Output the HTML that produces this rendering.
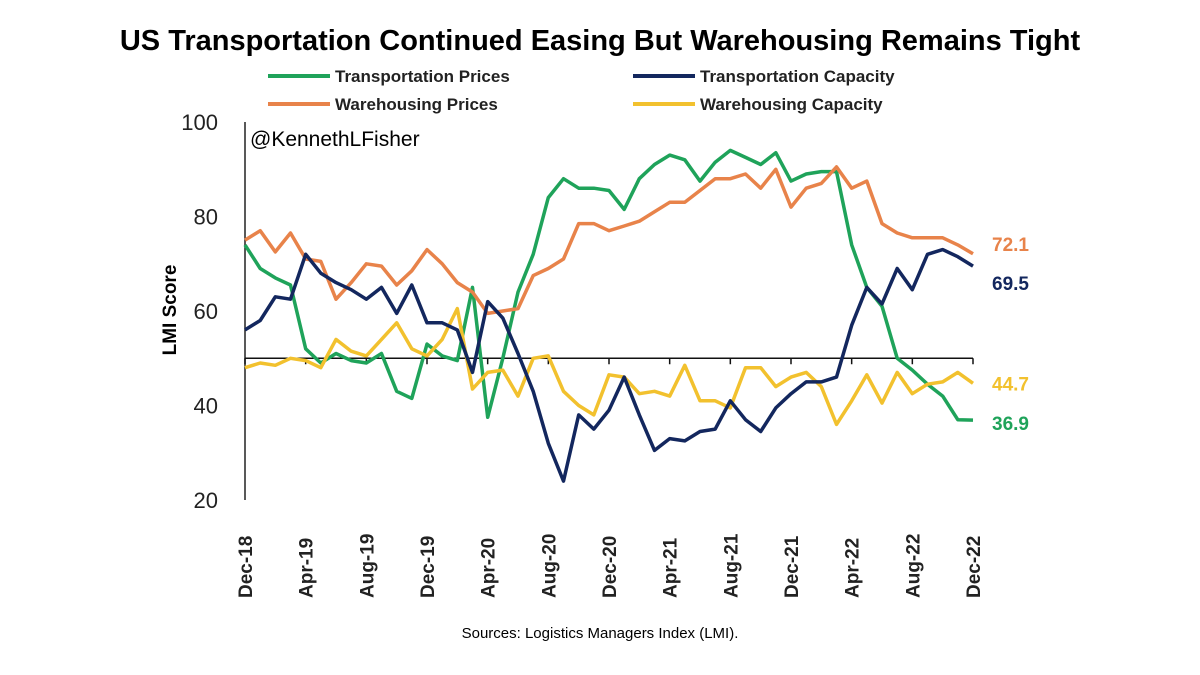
<!DOCTYPE html>
<html><head><meta charset="utf-8"><style>
body{margin:0;background:#fff;width:1200px;height:675px;overflow:hidden}
svg{display:block}
</style></head><body>
<svg id="chart" width="1200" height="675" font-family="'Liberation Sans', sans-serif">
<text x="600" y="50" text-anchor="middle" font-size="29" font-weight="bold" fill="#000">US Transportation Continued Easing But Warehousing Remains Tight</text>
<g font-size="17" font-weight="bold" fill="#222">
<g><line x1="268" y1="76" x2="330" y2="76" stroke="#1fa35a" stroke-width="4"/><text x="335" y="82">Transportation Prices</text></g>
<g><line x1="633" y1="76" x2="695" y2="76" stroke="#13275e" stroke-width="4"/><text x="700" y="82">Transportation Capacity</text></g>
<g><line x1="268" y1="104" x2="330" y2="104" stroke="#e8834a" stroke-width="4"/><text x="335" y="110">Warehousing Prices</text></g>
<g><line x1="633" y1="104" x2="695" y2="104" stroke="#f2c12e" stroke-width="4"/><text x="700" y="110">Warehousing Capacity</text></g>
</g>
<text x="250" y="146" font-size="21" fill="#000">@KennethLFisher</text>
<text transform="translate(176,310) rotate(-90)" text-anchor="middle" font-size="19" font-weight="bold" fill="#000">LMI Score</text>
<g id="plot"></g>
<text x="600" y="638" text-anchor="middle" font-size="15" fill="#000">Sources: Logistics Managers Index (LMI).</text>
</svg>
<script>
const categories=["Dec-18","Apr-19","Aug-19","Dec-19","Apr-20","Aug-20","Dec-20","Apr-21","Aug-21","Dec-21","Apr-22","Aug-22","Dec-22"];
const yTicks=[20,40,60,80,100];
const transportPrices=[74,69,67,65.5,52,49,51,49.5,49,51,43,41.5,53,50.5,49.5,65,37.5,50,64,72,84,88,86,86,85.5,81.5,88,91,93,92,87.5,91.5,94,92.5,91,93.5,87.5,89,89.5,89.5,74,65,61,50,47.5,44.5,42,37,36.9];
const transportCapacity=[56,58,63,62.5,72,68,66,64.5,62.5,65,59.5,65.5,57.5,57.5,56,47,62,58.5,51,43,32,24,38,35,39,46,38,30.5,33,32.5,34.5,35,41,37,34.5,39.5,42.5,45,45,46,57,65,61.5,69,64.5,72,73,71.5,69.5];
const warehousePrices=[75,77,72.5,76.5,71,70.5,62.5,66,70,69.5,65.5,68.5,73,70,66,64,59.5,60,60.5,67.5,69,71,78.5,78.5,77,78,79,81,83,83,85.5,88,88,89,86,90,82,86,87,90.5,86,87.5,78.5,76.5,75.5,75.5,75.5,74,72.1];
const warehouseCapacity=[48,49,48.5,50,49.5,48,54,51.5,50.5,54,57.5,52,50.5,54,60.5,43.5,47,47.5,42,50,50.5,43,40,38,46.5,46,42.5,43,42,48.5,41,41,39.5,48,48,44,46,47,44,36,41,46.5,40.5,47,42.5,44.5,45,47,44.7];
const endLabels=["72.1","69.5","44.7","36.9"];

const NS="http://www.w3.org/2000/svg";
const plot=document.getElementById('plot');
const x0=245,x1=973,nPts=49;
const xs=i=>x0+(x1-x0)*i/(nPts-1);
const ys=v=>500-(v-20)*(378/80);
function mk(t,a){const e=document.createElementNS(NS,t);for(const k in a)e.setAttribute(k,a[k]);plot.appendChild(e);return e;}

const ya=mk('line',{x1:x0,y1:ys(100),x2:x0,y2:ys(20),stroke:'#222','stroke-width':1.5});


yTicks.forEach(v=>{
  const t=mk('text',{x:218,y:ys(v)+8,'text-anchor':'end','font-size':22,fill:'#222'});
  t.textContent=v;
  
  
});
const xa=mk('line',{x1:x0,y1:ys(50),x2:x1,y2:ys(50),stroke:'#111','stroke-width':1.5});


categories.forEach((c,j)=>{
  const x=xs(j*4);
  const tk=mk('line',{x1:x,y1:ys(50),x2:x,y2:ys(50)+6,stroke:'#111','stroke-width':1.5});
  
  
  const t=mk('text',{transform:`translate(${x+7},598) rotate(-90)`,'font-size':19,'font-weight':'bold',fill:'#222'});
  t.textContent=c;
  
  
});
const series=[[transportPrices,'#1fa35a','line-transportation-prices'],[warehousePrices,'#e8834a','line-warehousing-prices'],[warehouseCapacity,'#f2c12e','line-warehousing-capacity'],[transportCapacity,'#13275e','line-transportation-capacity']];
series.forEach(([d,c,n])=>{
  const p=mk('polyline',{points:d.map((v,i)=>xs(i).toFixed(1)+','+ys(v).toFixed(1)).join(' '),fill:'none',stroke:c,'stroke-width':3.5,'stroke-linejoin':'round'});
  
  
});
const lbl=[[warehousePrices,'#e8834a',endLabels[0],-3],[transportCapacity,'#13275e',endLabels[1],24],[warehouseCapacity,'#f2c12e',endLabels[2],7],[transportPrices,'#1fa35a',endLabels[3],10]];
lbl.forEach(([d,c,s,off])=>{
  const t=mk('text',{x:992,y:ys(d[d.length-1])+off,'font-size':19,'font-weight':'bold',fill:c});
  t.textContent=s;
  
  
});
</script>
</body></html>
